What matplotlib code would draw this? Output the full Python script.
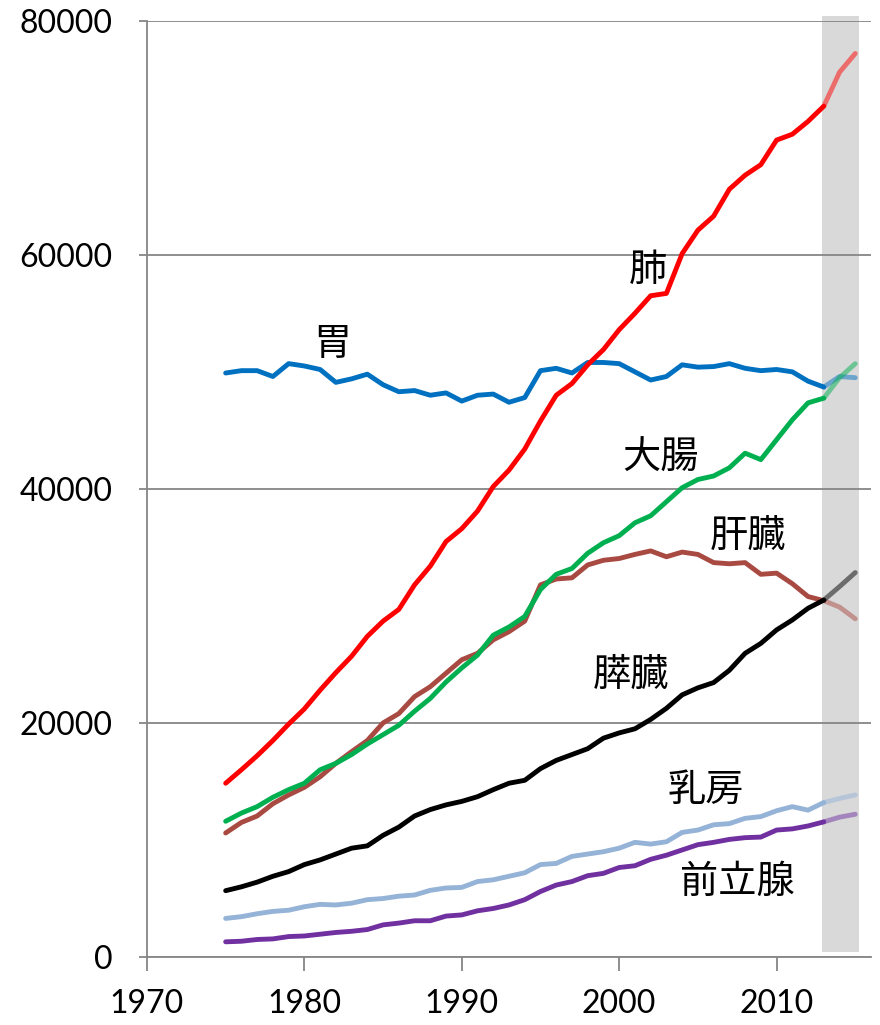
import matplotlib
matplotlib.use("Agg")
import matplotlib.pyplot as plt
from matplotlib.patches import Rectangle

years = list(range(1975, 2016))

stomach = [49900, 50100, 50100, 49600, 50700, 50500, 50200, 49100, 49400, 49800,
           48900, 48300, 48400, 48000, 48200, 47500, 48000, 48100, 47400, 47800,
           50100, 50300, 49900, 50800, 50800, 50700, 50000, 49300, 49600, 50600,
           50400, 50450, 50700, 50300, 50100, 50200, 50000, 49200, 48700, 49600, 49500]
lung = [14850, 16000, 17200, 18500, 19900, 21200, 22800, 24300, 25700, 27400,
        28700, 29700, 31800, 33400, 35500, 36600, 38100, 40200, 41600, 43400,
        45800, 48000, 49000, 50600, 51900, 53600, 55000, 56500, 56700, 60100,
        62100, 63300, 65600, 66800, 67700, 69800, 70300, 71400, 72700, 75600, 77200]
colorectal = [11600, 12300, 12850, 13650, 14300, 14850, 16000, 16550, 17300, 18200,
              19000, 19800, 21000, 22100, 23500, 24700, 25800, 27500, 28200, 29100,
              31400, 32700, 33200, 34500, 35400, 36000, 37100, 37700, 38900, 40100,
              40800, 41100, 41800, 43050, 42500, 44200, 45900, 47350, 47750, 49500, 50700]
liver = [10600, 11500, 12050, 13100, 13850, 14500, 15400, 16550, 17550, 18500,
         20000, 20800, 22250, 23100, 24250, 25400, 25950, 27100, 27800, 28700,
         31800, 32300, 32400, 33500, 33900, 34050, 34400, 34700, 34200, 34600,
         34400, 33700, 33600, 33700, 32700, 32800, 31900, 30800, 30450, 29900, 28900]
pancreas = [5670, 6000, 6400, 6900, 7300, 7900, 8300, 8800, 9300, 9500,
            10400, 11100, 12050, 12600, 13000, 13300, 13700, 14300, 14850, 15100,
            16100, 16800, 17300, 17800, 18700, 19150, 19500, 20300, 21250, 22400,
            23000, 23450, 24500, 25950, 26800, 27950, 28800, 29800, 30500, 31650, 32850]
breast = [3300, 3450, 3700, 3900, 4000, 4300, 4500, 4450, 4600, 4900,
          5000, 5200, 5300, 5700, 5900, 5950, 6450, 6600, 6900, 7200,
          7900, 8000, 8600, 8800, 9000, 9300, 9800, 9650, 9850, 10650,
          10850, 11300, 11400, 11850, 12000, 12500, 12850, 12550, 13200, 13550, 13850]
prostate = [1300, 1350, 1500, 1550, 1750, 1800, 1950, 2100, 2200, 2350,
            2750, 2900, 3100, 3100, 3500, 3600, 3950, 4150, 4450, 4900,
            5600, 6150, 6450, 6950, 7150, 7650, 7800, 8350, 8700, 9150,
            9600, 9800, 10050, 10200, 10250, 10850, 10950, 11200, 11550, 11950, 12200]

labels = ["胃", "肺", "大腸", "肝臓", "膵臓", "乳房", "前立腺"]
label_x = [1981.8, 2001.8, 2002.6, 2008.2, 2000.75, 2005.5, 2007.5]
label_y = [52300, 58700, 42600, 35900, 24100, 14270, 6410]

yticks = [0, 20000, 40000, 60000, 80000]
xticks = [1970, 1980, 1990, 2000, 2010]

series = [
    (stomach, "#0070C0", 2),
    (liver, "#A84A42", 3),
    (breast, "#95B3D7", 3),
    (prostate, "#7030A0", 3),
    (pancreas, "#000000", 4),
    (colorectal, "#00B050", 5),
    (lung, "#FF0000", 6),
]

fig = plt.figure(figsize=(8.8, 10.25), dpi=100)
ax = fig.add_axes([0.167, 0.0663, 0.8228, 0.9135])

ax.set_xlim(1970, 2016)
ax.set_ylim(0, 80000)

# projection band
ax.add_patch(Rectangle((2012.9, 430), 2.35, 80000, facecolor="#D9D9D9",
                       edgecolor="none", zorder=0.5, clip_on=False))

split = years.index(2013)
for vals, col, z in series:
    ax.plot(years[:split + 1], vals[:split + 1], color=col, lw=3.5, zorder=z,
            solid_capstyle="round", solid_joinstyle="round")
    ax.plot(years[split:], vals[split:], color=col, lw=3.5, zorder=z, alpha=0.5,
            solid_capstyle="round", solid_joinstyle="round")

cjk = ["Noto Sans CJK JP", "DejaVu Sans"]
for t, x, y in zip(labels, label_x, label_y):
    ax.text(x, y, t, fontsize=27.5, family=cjk, ha="center", va="center", zorder=10)

ax.set_yticks(yticks)
ax.set_xticks(xticks)
ax.set_yticklabels([str(v) for v in yticks])
ax.set_xticklabels([str(v) for v in xticks])
ax.grid(axis="y", color="#868686", lw=1.3, zorder=1)
ax.set_axisbelow(False)
for gl in ax.get_ygridlines():
    gl.set_zorder(1)

for s in ["top", "right"]:
    ax.spines[s].set_visible(False)
for s in ["left", "bottom"]:
    ax.spines[s].set_color("#868686")
    ax.spines[s].set_linewidth(1.3)
    ax.spines[s].set_zorder(1)

ax.tick_params(axis="y", length=6, width=1.3, color="#868686", pad=19,
               labelsize=23)
ax.tick_params(axis="x", length=10, width=1.3, color="#868686", pad=13,
               labelsize=23)
for lab in ax.get_xticklabels() + ax.get_yticklabels():
    lab.set_family("Lato")

fig.savefig("out.png", dpi=100)
